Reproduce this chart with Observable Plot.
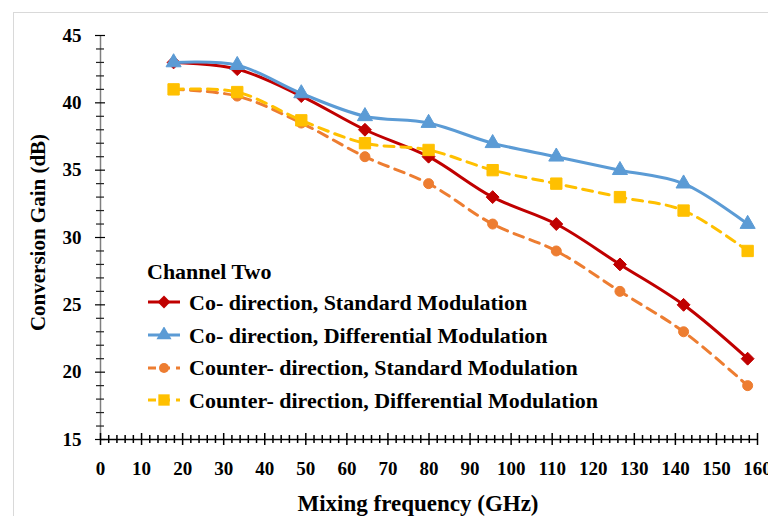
<!DOCTYPE html>
<html>
<head>
<meta charset="utf-8">
<script src="https://cdn.jsdelivr.net/npm/d3@7"></script>
<script src="https://cdn.jsdelivr.net/npm/@observablehq/plot@0.6"></script>
<style>
  html, body { margin: 0; padding: 0; background: #fff; }
  #wrap { position: relative; width: 768px; height: 516px; overflow: hidden; }
  #frame { position: absolute; left: 13px; top: 12px; width: 800px; height: 600px;
           border-left: 1px solid #d9d9d9; border-top: 1px solid #d9d9d9; }
  #legend { position: absolute; left: 147px; top: 257px;
            font-family: "Liberation Serif", "Times New Roman", serif; font-weight: bold;
            font-size: 22px; color: #000; line-height: 33px; }
  #legend .row { display: flex; align-items: center; height: 32.7px; }
  #legend svg { margin-right: 8px; flex: none; }
  #legend .title { height: 29px; line-height: 29px; }
</style>
</head>
<body>
<div id="wrap">
  <div id="frame"></div>
  <div id="chart"></div>
  <div id="legend"></div>
</div>
<script>
// Mixing frequency (GHz) of each measured point
const freq = [17.8, 33.3, 48.9, 64.4, 79.9, 95.5, 111.0, 126.5, 142.0, 157.6];

// Conversion gain (dB), channel two
const coStandard      = [43, 42.5, 40.5, 38, 36, 33, 31, 28, 25, 21];
const coDifferential  = [43, 42.8, 40.7, 39, 38.5, 37, 36, 35, 34, 31];
const ctrStandard     = [41, 40.5, 38.5, 36, 34, 31, 29, 26, 23, 19];
const ctrDifferential = [41, 40.8, 38.7, 37, 36.5, 35, 34, 33, 32, 29];

const seriesNames = [
  "Co- direction, Standard Modulation",
  "Co- direction, Differential Modulation",
  "Counter- direction, Standard Modulation",
  "Counter- direction, Differential Modulation"
];
const seriesValues = [coStandard, coDifferential, ctrStandard, ctrDifferential];
const seriesColors = ["#C00000", "#5B9BD5", "#ED7D31", "#FFC000"];
const seriesSymbols = ["diamond2", "triangle", "circle", "square"];
const seriesRadius = [5.8, 5.6, 5, 6.4];
const seriesDash = [null, null, "10,7", "10,7"];

const legendTitle = "Channel Two";
const xLabel = "Mixing frequency (GHz)";
const yLabel = "Conversion Gain (dB)";

const xMajor = d3.range(0, 161, 10);
const xMinor = d3.range(0, 161, 2).filter(v => v % 10 !== 0);
const yMajor = d3.range(15, 46, 5);
const yMinor = d3.range(15, 46, 1).filter(v => v % 5 !== 0);

const W = 768, H = 516;
const mL = 100, mR = 11, mT = 35, mB = 77;
const plotW = W - mL - mR, plotH = H - mT - mB;

const font = `"Liberation Serif", "Times New Roman", serif`;

const seriesMarks = seriesValues.flatMap((vals, i) => {
  const pts = freq.map((f, k) => ({f, g: vals[k]}));
  return [
    Plot.line(pts, {x: "f", y: "g", stroke: seriesColors[i], strokeWidth: 3,
      curve: "catmull-rom", strokeDasharray: seriesDash[i] ?? undefined}),
    Plot.dot(pts, {x: "f", y: "g", symbol: seriesSymbols[i], r: seriesRadius[i],
      fill: seriesColors[i], stroke: seriesColors[i], strokeWidth: 1})
  ];
});

const chart = Plot.plot({
  width: W, height: H,
  marginLeft: mL, marginRight: mR, marginTop: mT, marginBottom: mB,
  style: {fontFamily: font, fontWeight: "bold", background: "transparent", overflow: "visible"},
  x: {domain: [0, 160]},
  y: {domain: [15, 45]},
  marks: [
    // tick labels
    Plot.axisY(yMajor, {tickSize: 0, tickPadding: 19, fontSize: 19, fontWeight: "bold",
      label: null, tickFormat: d => d}),
    Plot.axisX(xMajor, {tickSize: 0, tickPadding: 22, fontSize: 19, fontWeight: "bold",
      label: null, tickFormat: d => d}),
    // axis titles
    Plot.text([yLabel], {frameAnchor: "left", textAnchor: "middle", dx: -62, dy: -5,
      rotate: -90, fontSize: 21, fontWeight: "bold", fill: "#000"}),
    Plot.text([xLabel], {frameAnchor: "bottom", dx: -11, dy: 71, fontSize: 23,
      fontWeight: "bold", fill: "#000"}),
    // axis lines
    Plot.ruleX([0], {stroke: "#7f7f7f", strokeWidth: 1.5}),
    // tick marks crossing the axes
    Plot.ruleY(yMinor, {insetLeft: -4, insetRight: plotW - 4, stroke: "#222", strokeWidth: 1.2}),
    Plot.ruleY(yMajor, {insetLeft: -5, insetRight: plotW - 5, stroke: "#000", strokeWidth: 1.2}),
    Plot.ruleX(xMinor, {insetTop: plotH - 4, insetBottom: -4, stroke: "#000", strokeWidth: 1.5}),
    Plot.ruleX(xMajor, {insetTop: plotH - 6, insetBottom: -6, stroke: "#000", strokeWidth: 1.5}),
    Plot.ruleY([15], {stroke: "#000", strokeWidth: 1.5}),
    ...seriesMarks
  ]
});
document.getElementById("chart").appendChild(chart);

// legend
const legend = d3.select("#legend");
legend.append("div").attr("class", "title").text(legendTitle);
const symPath = {
  diamond2: d3.symbol(d3.symbolDiamond2),
  triangle: d3.symbol(d3.symbolTriangle),
  circle: d3.symbol(d3.symbolCircle),
  square: d3.symbol(d3.symbolSquare)
};
seriesNames.forEach((name, i) => {
  const row = legend.append("div").attr("class", "row");
  const s = row.append("svg").attr("width", 34).attr("height", 16);
  s.append("line").attr("x1", 1).attr("x2", 33).attr("y1", 8).attr("y2", 8)
    .attr("stroke", seriesColors[i]).attr("stroke-width", 3)
    .attr("stroke-dasharray", seriesDash[i] ? "8,6" : null);
  s.append("path").attr("transform", "translate(17,8)")
    .attr("d", symPath[seriesSymbols[i]].size(Math.PI * seriesRadius[i] ** 2)())
    .attr("fill", seriesColors[i]);
  row.append("span").text(name);
});
</script>
</body>
</html>
